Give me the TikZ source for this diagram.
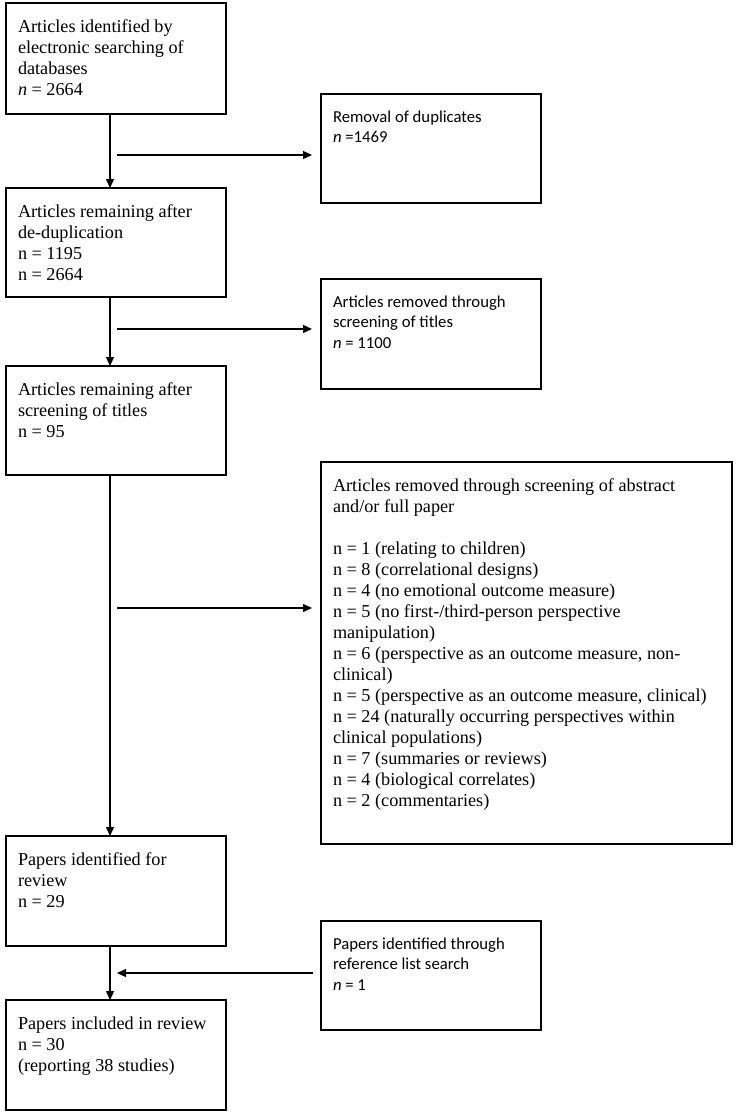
\documentclass[tikz,border=0pt]{standalone}
\usepackage{fontspec}
\setmainfont{Liberation Serif}
\newfontfamily\calibrifont{Carlito}
\usetikzlibrary{arrows.meta,positioning}

% text of a box: width, height, lines (top aligned)
\newcommand\boxtext[3]{\vbox to #2{\hsize=#1\relax\parindent=0pt\parskip=0pt\raggedright
  \vskip16.8pt\relax #3\par\vfil}}

\begin{document}
\begin{tikzpicture}[x=1pt,y=1pt,>={Triangle[length=9pt,width=8pt]},
  box/.style={draw,line width=1.1pt,anchor=north west,inner xsep=12pt,inner ysep=0pt,outer sep=0pt,
    font=\fontsize{18.2}{21}\selectfont},
  cbox/.style={box,font=\calibrifont\fontsize{16.7}{20.4}\selectfont},
  line/.style={line width=1.2pt}]

\useasboundingbox (0,0) rectangle (737,-1113);

% main column
\node[box] (idf) at (6,-3) {\boxtext{196pt}{111pt}{Articles identified by\\electronic searching of\\databases\\\textit{n} = 2664}};
\node[box] (dedup) [below=74pt of idf.south west,anchor=north west] {\boxtext{196pt}{109pt}{Articles remaining after\\de-duplication\\n = 1195\\n = 2664}};
\node[box] (titles) [below=69pt of dedup.south west,anchor=north west] {\boxtext{196pt}{109pt}{Articles remaining after\\screening of titles\\n = 95}};
\node[box] (forrev) [below=361pt of titles.south west,anchor=north west] {\boxtext{196pt}{110pt}{Papers identified for\\review\\n = 29}};
\node[box] (incl) [below=54pt of forrev.south west,anchor=north west] {\boxtext{196pt}{110pt}{Papers included in review\\n = 30\\(reporting 38 studies)}};

% side column
\node[cbox] (dup) at (321,-94) {\boxtext{196pt}{109pt}{Removal of duplicates\\\textit{n} =1469}};
\node[cbox] (remt) [below=76pt of dup.south west,anchor=north west] {\boxtext{196pt}{110pt}{Articles removed through\\screening of titles\\\textit{n} = 1100}};
\node[box] (remab) [below=73pt of remt.south west,anchor=north west] {\boxtext{387pt}{382pt}{Articles removed through screening of abstract\\and/or full paper\\[21pt]
  n = 1 (relating to children)\\
  n = 8 (correlational designs)\\
  n = 4 (no emotional outcome measure)\\
  n = 5 (no first-/third-person perspective\\manipulation)\\
  n = 6 (perspective as an outcome measure, non-\\clinical)\\
  n = 5 (perspective as an outcome measure, clinical)\\
  n = 24 (naturally occurring perspectives within\\clinical populations)\\
  n = 7 (summaries or reviews)\\
  n = 4 (biological correlates)\\
  n = 2 (commentaries)}};
\node[cbox] (refl) [below=77pt of remab.south west,anchor=north west] {\boxtext{196pt}{109pt}{Papers identified through\\reference list search\\\textit{n} = 1}};

\coordinate (spine) at (110,0);
\coordinate (b1) at (110,-155);
\coordinate (b2) at (110,-329);
\coordinate (b3) at (110,-608);
\coordinate (b4) at (110,-973);

\path[->,line] (idf.south -| spine) edge (dedup.north -| spine)
      (dedup.south -| spine) edge (titles.north -| spine)
      (titles.south -| spine) edge (forrev.north -| spine)
      (forrev.south -| spine) edge (incl.north -| spine)
      ([xshift=7pt]b1) edge ([xshift=-9pt]b1 -| dup.west)
      ([xshift=7pt]b2) edge ([xshift=-9pt]b2 -| remt.west)
      ([xshift=7pt]b3) edge ([xshift=-9pt]b3 -| remab.west)
      ([xshift=-8pt]b4 -| refl.west) edge ([xshift=7pt]b4);

\end{tikzpicture}
\end{document}
